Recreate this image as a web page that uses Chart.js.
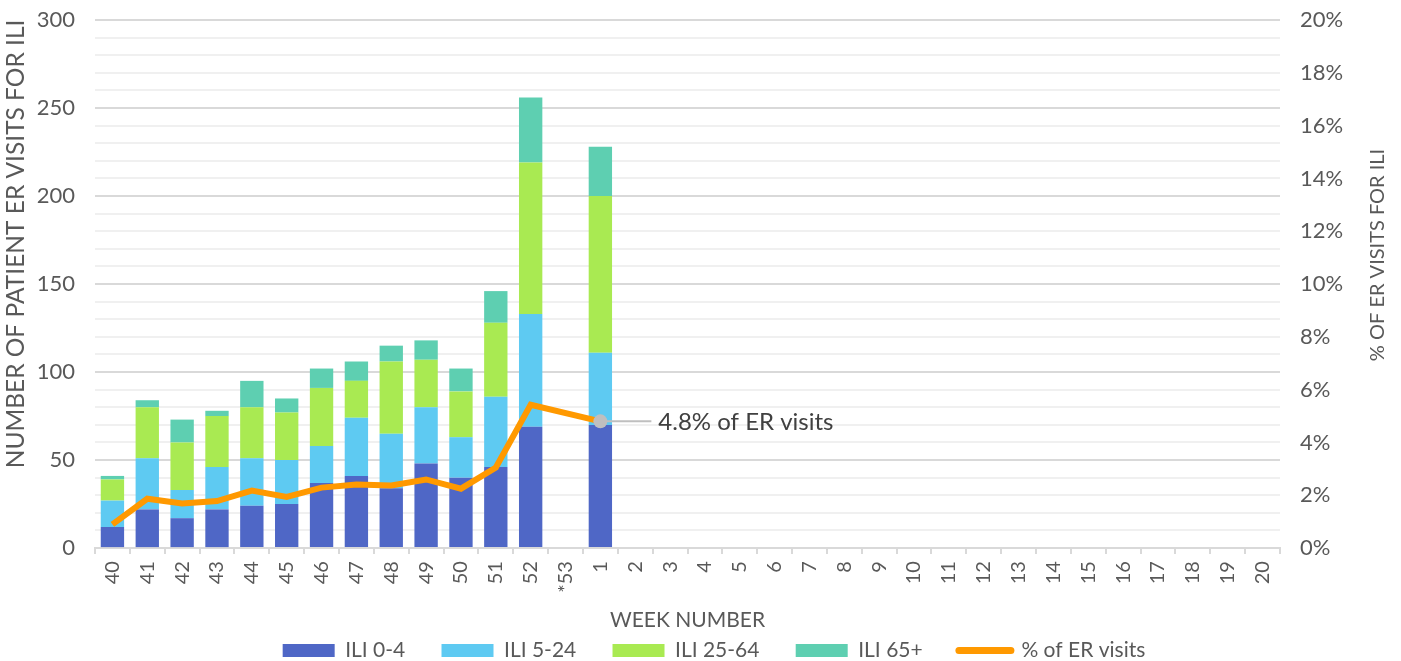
<!DOCTYPE html>
<html>
<head>
<meta charset="utf-8">
<script src="https://cdn.jsdelivr.net/npm/chart.js@4"></script>
<style>
  html, body { margin: 0; padding: 0; background: #fff; }
  #wrap { width: 1401px; height: 661px; position: relative; }
</style>
</head>
<body>
<div id="wrap"><canvas id="chart"></canvas></div>
<script>
// ILI ER visits by age group, weekly

const weeks = ['40','41','42','43','44','45','46','47','48','49','50','51','52','*53',
               '1','2','3','4','5','6','7','8','9','10','11','12','13','14','15','16','17','18','19','20'];

const ili0to4   = [12, 22, 17, 22, 24, 25, 37, 41, 34, 48, 40, 46, 69, null, 70];
const ili5to24  = [15, 29, 16, 24, 27, 25, 21, 33, 31, 32, 23, 40, 64, null, 41];
const ili25to64 = [12, 29, 27, 29, 29, 27, 33, 21, 41, 27, 26, 42, 86, null, 89];
const ili65plus = [ 2,  4, 13,  3, 15,  8, 11, 11,  9, 11, 13, 18, 37, null, 28];
const pctErVisits = [0.9, 1.87, 1.69, 1.78, 2.18, 1.94, 2.29, 2.41, 2.37, 2.6, 2.25, 3.05, 5.43, null, 4.8];

const calloutWeek = '1';
const calloutText = '4.8% of ER visits';

const FONT = 'Lato, "Open Sans", sans-serif';
const GREY = '#595959';
const leftTitle = 'NUMBER OF PATIENT ER VISITS FOR ILI';
const rightTitle = '% OF ER VISITS FOR ILI';

function drawVertical(ctx, text, x, y, size) {
    ctx.save();
    ctx.translate(x, y);
    ctx.rotate(-Math.PI / 2);
    ctx.font = size + 'px ' + FONT;
    ctx.fillStyle = GREY;
    ctx.textAlign = 'center';
    ctx.textBaseline = 'middle';
    ctx.fillText(text, 0, 0);
    ctx.restore();
}

// callout with grey dot + leader line, axis titles (both read bottom-to-top)
const extras = {
    id: 'extras',
    afterDatasetsDraw(chart) {
        const ctx = chart.ctx;
        const idx = weeks.indexOf(calloutWeek);
        const x = chart.scales.x.getPixelForValue(idx);
        const y = chart.scales.y1.getPixelForValue(pctErVisits[idx]);
        ctx.save();
        ctx.strokeStyle = '#bfbfbf';
        ctx.lineWidth = 2;
        ctx.beginPath();
        ctx.moveTo(x, y);
        ctx.lineTo(x + 51, y);
        ctx.stroke();
        ctx.fillStyle = '#bfbfbf';
        ctx.beginPath();
        ctx.arc(x, y, 7, 0, Math.PI * 2);
        ctx.fill();
        ctx.fillStyle = '#404040';
        ctx.font = '24px ' + FONT;
        ctx.textBaseline = 'middle';
        ctx.fillText(calloutText, x + 58, y + 1);
        ctx.restore();
    },
    afterDraw(chart) {
        drawVertical(chart.ctx, leftTitle, 16, 244, 24.5);
        drawVertical(chart.ctx, rightTitle, chart.width - 23, 255, 20);
    }
};

const barDefaults = { type: 'bar', yAxisID: 'y', barPercentage: 0.67, categoryPercentage: 1, borderWidth: 0 };

new Chart(document.getElementById('chart'), {
    data: {
        labels: weeks,
        datasets: [
            { ...barDefaults, label: 'ILI 0-4', data: ili0to4, backgroundColor: '#4f67c6' },
            { ...barDefaults, label: 'ILI 5-24', data: ili5to24, backgroundColor: '#5ecaf2' },
            { ...barDefaults, label: 'ILI 25-64', data: ili25to64, backgroundColor: '#a9ea52' },
            { ...barDefaults, label: 'ILI 65+', data: ili65plus, backgroundColor: '#5ecfb1' },
            {
                type: 'line', label: '% of ER visits', data: pctErVisits, yAxisID: 'y1',
                borderColor: '#ff9900', backgroundColor: '#ff9900', borderWidth: 6,
                pointRadius: 0, spanGaps: true, order: -1, tension: 0
            }
        ]
    },
    options: {
        responsive: true,
        maintainAspectRatio: false,
        animation: false,
        layout: { padding: { top: 20, left: 29, right: 2, bottom: -10 } },
        plugins: {
            tooltip: { enabled: false },
            legend: {
                position: 'bottom',
                labels: {
                    font: { family: FONT, size: 21 },
                    color: GREY,
                    usePointStyle: true,
                    pointStyleWidth: 52,
                    boxHeight: 13,
                    padding: 10,
                    sort: (a, b) => a.datasetIndex - b.datasetIndex,
                    generateLabels(chart) {
                        const items = Chart.defaults.plugins.legend.labels.generateLabels(chart);
                        items.forEach(it => {
                            const ds = chart.data.datasets[it.datasetIndex];
                            if (ds.type === 'line') {
                                it.pointStyle = 'line';
                                it.lineWidth = 7;
                                it.strokeStyle = '#ff9900';
                                it.lineCap = 'round';
                            } else {
                                it.pointStyle = 'rect';
                                it.lineWidth = 0;
                                it.text = it.text + '\u2003\u2002';
                            }
                        });
                        return items;
                    }
                }
            }
        },
        scales: {
            x: {
                stacked: true,
                grid: { drawOnChartArea: false, drawTicks: true, tickLength: 6, color: '#d9d9d9', lineWidth: 2 },
                border: { color: '#d9d9d9', width: 2 },
                ticks: {
                    autoSkip: false, maxRotation: 90, minRotation: 90,
                    font: { family: FONT, size: 20 }, color: GREY, padding: 7
                },
                title: { display: true, text: 'WEEK NUMBER', font: { family: FONT, size: 21 }, color: GREY, padding: { top: 8, bottom: -3 } }
            },
            y: {
                stacked: true,
                min: 0, max: 300,
                position: 'left',
                border: { display: false },
                grid: {
                    drawTicks: false,
                    lineWidth: 2,
                    color: c => (c.tick && c.tick.value % 50 === 0) ? '#d9d9d9' : '#f0f0f0'
                },
                ticks: {
                    stepSize: 10, autoSkip: false, padding: 20,
                    font: { family: FONT, size: 22 }, color: GREY,
                    callback: v => (v % 50 === 0 ? v : '')
                },
                afterFit: s => { s.width = 66; s.paddingTop = 0; }
            },
            y1: {
                min: 0, max: 20,
                position: 'right',
                border: { display: false },
                grid: { drawOnChartArea: false, drawTicks: false },
                ticks: {
                    stepSize: 2, padding: 20,
                    font: { family: FONT, size: 22 }, color: GREY,
                    callback: v => v + '%'
                },
                afterFit: s => { s.width = 119; s.paddingTop = 0; }
            }
        }
    },
    plugins: [extras]
});
</script>
</body>
</html>
